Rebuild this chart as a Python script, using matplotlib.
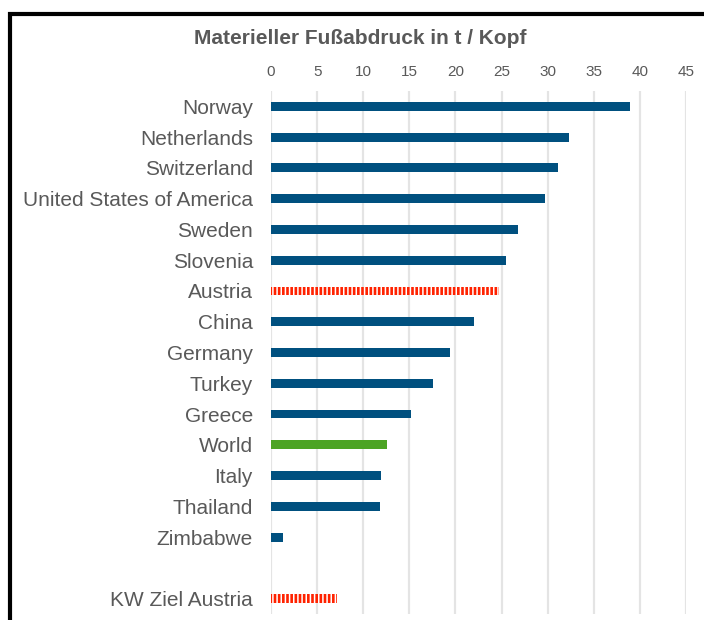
import matplotlib
matplotlib.use("Agg")
import matplotlib.pyplot as plt
from matplotlib.patches import Rectangle

countries = ["Norway", "Netherlands", "Switzerland", "United States of America",
             "Sweden", "Slovenia", "Austria", "China", "Germany", "Turkey",
             "Greece", "World", "Italy", "Thailand", "Zimbabwe", "", "KW Ziel Austria"]
values = [38.9, 32.3, 31.1, 29.7, 26.8, 25.5, 24.7, 22.0, 19.4, 17.6,
          15.2, 12.6, 11.9, 11.8, 1.3, 0.0, 7.2]
kinds = ["n", "n", "n", "n", "n", "n", "h", "n", "n", "n",
         "n", "w", "n", "n", "n", "n", "h"]
xticks = [0, 5, 10, 15, 20, 25, 30, 35, 40, 45]

plt.rcParams['font.family'] = ['Liberation Sans', 'DejaVu Sans']
plt.rcParams['hatch.linewidth'] = 1.1

fig = plt.figure(figsize=(7.04, 6.20), dpi=100)
W, H = 704, 620
ax = fig.add_axes([271 / W, 1 - 614 / H, (686 - 271) / W, (614 - 91) / H])

blue = "#00507F"
green = "#4CA424"
red = "#FF2200"

ypos = list(range(len(countries)))
for y, v, k in zip(ypos, values, kinds):
    if k == "n":
        ax.barh(y, v, height=0.29, color=blue, zorder=3)
    elif k == "w":
        ax.barh(y, v, height=0.29, color=green, zorder=3)
    else:
        ax.barh(y, v, height=0.29, facecolor=red, edgecolor="white",
                hatch="||||", linewidth=0, zorder=3)

ax.set_ylim(len(countries) - 0.5, -0.5)
ax.set_xlim(0, 45)
ax.set_yticks(ypos)
ax.set_yticklabels(countries, fontsize=15, color="#595959")
ax.set_xticks(xticks)
ax.set_xticklabels([str(t) for t in xticks], fontsize=11, color="#595959")
ax.xaxis.tick_top()
ax.tick_params(axis="x", length=0, pad=9)
ax.tick_params(axis="y", length=0, pad=13)
ax.grid(axis="x", color="#E4E4E4", linewidth=1.6, zorder=0)
for s in ax.spines.values():
    s.set_visible(False)

fig.text(360 / W, 1 - 38 / H, "Materieller Fußabdruck in t / Kopf", ha="center",
         va="center", fontsize=15, fontweight="bold", color="#595959")

# black frame (cut off at right and bottom)
fig.patches.append(Rectangle((10 / W, -0.1), 1.2, 1 - 14 / H + 0.1,
                             transform=fig.transFigure, fill=False,
                             edgecolor="black", linewidth=3, zorder=10))

fig.savefig("out.png", dpi=100)
